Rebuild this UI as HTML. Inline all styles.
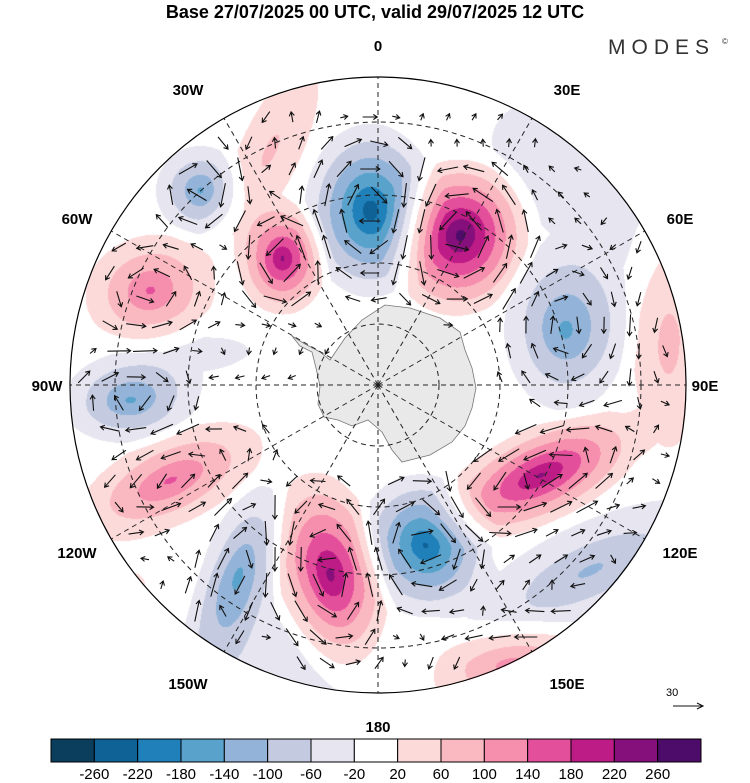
<!DOCTYPE html>
<html><head><meta charset="utf-8"><style>
body{margin:0;background:#fff;width:750px;height:783px;overflow:hidden;font-family:"Liberation Sans",sans-serif}
#wrap{position:relative;width:750px;height:783px}
canvas,svg{position:absolute;left:0;top:0}
</style></head><body>
<div id="wrap">
<canvas id="cv" width="750" height="783"></canvas>
<svg id="sv" width="750" height="783"></svg>
</div>
<script>
// anomaly centres (pixel), spreads, rotation, values
const bx=[370,460,282,200,150,565,130,540,170,238,330,425,590,510,668,270,560,250,600,190,120];
const by=[210,235,258,190,290,330,400,475,480,575,575,545,570,665,340,150,140,660,220,355,610];
const bsx=[29,31,20,21,31,29,32,50,47,18,25,29,68,40,20,18,60,80,45,60,40];
const bsy=[38,35,25,21,26,38,20,21,21,44,46,32,24,22,60,55,40,40,60,18,30];
const brot=[0,15,0,0,-15,0,-5,-25,-25,18,-12,-25,-25,-10,0,25,0,0,0,-5,-30];
const bval=[-250,280,230,-150,150,-150,-150,230,150,-150,240,-230,-110,120,80,70,-40,-50,-35,-35,40];
const levels=[-260,-220,-180,-140,-100,-60,-20,20,60,100,140,180,220,260];
const colors=["#0b3d5c","#0f6296","#1f80ba","#58a2cb","#93b4d8","#c4cbe1","#e6e5f0","#ffffff","#fcdada","#fab9c0","#f68eae","#e44f9b","#bd1b86","#86107b","#4e0c6a"];
const lonLabels=["0","30E","60E","90E","120E","150E","180","150W","120W","90W","60W","30W"];
const latRadii=[61,122,190,263];
const labelPos=[[378,51],[567,95],[680,224],[705,391],[680,558],[567,689],[378,732],[188,689],[77,558],[47,391],[77,224],[188,95]];
const CX=378,CY=385,R=308;
function field(x,y){let s=0;for(let i=0;i<bx.length;i++){const a=brot[i]*Math.PI/180,dx=x-bx[i],dy=y-by[i];const u=dx*Math.cos(a)+dy*Math.sin(a),w=-dx*Math.sin(a)+dy*Math.cos(a);const d=Math.sqrt(u*u/(bsx[i]*bsx[i])+w*w/(bsy[i]*bsy[i]));const t=1-d/2.6;if(t>0)s+=bval[i]*Math.pow(t,1.2);}return s;}
function colorIdx(v){let k=0;while(k<levels.length&&v>=levels[k])k++;return k;}
const cv=document.getElementById('cv'),ctx=cv.getContext('2d');
const img=ctx.createImageData(750,783);
function hex(c){return [parseInt(c.substr(1,2),16),parseInt(c.substr(3,2),16),parseInt(c.substr(5,2),16)];}
const rgb=colors.map(hex);
for(let y=CY-R;y<=CY+R;y++)for(let x=CX-R;x<=CX+R;x++){const d=(x-CX)**2+(y-CY)**2;if(d>R*R)continue;const c=rgb[colorIdx(field(x,y))];const p=(y*750+x)*4;img.data[p]=c[0];img.data[p+1]=c[1];img.data[p+2]=c[2];img.data[p+3]=255;}
ctx.putImageData(img,0,0);
const NS="http://www.w3.org/2000/svg",sv=document.getElementById('sv');
function el(t,a,p){const e=document.createElementNS(NS,t);for(const k in a)e.setAttribute(k,a[k]);(p||sv).appendChild(e);return e;}
// Antarctica
const ant=el('polygon',{points:"330,360 345,338 362,320 385,305 410,308 440,318 460,332 465,350 472,368 476,388 472,408 465,426 452,442 430,455 402,462 392,450 382,432 368,420 352,426 338,420 324,417 318,404 320,386 316,368 312,352 300,346 292,336 305,344 320,352",fill:"#e4e4e4","fill-opacity":"0.8",stroke:"#777","stroke-width":"0.8"});

// grid
const g=el('g',{stroke:"#222","stroke-width":"1","stroke-dasharray":"5,4",fill:"none"});

latRadii.forEach(r=>{const c=el('circle',{cx:CX,cy:CY,r:r},g);});
for(let i=0;i<12;i++){const a=i*30*Math.PI/180;const l=el('line',{x1:CX,y1:CY,x2:CX+R*Math.sin(a),y2:CY-R*Math.cos(a)},g);}
// arrows
const ag=el('g',{stroke:"#111","stroke-width":"1.1",fill:"none"});

for(let y=CY-R+14;y<CY+R;y+=26)for(let x=CX-R+14;x<CX+R;x+=26){
 const xx=x+((y/26|0)%2)*9;if((xx-CX)**2+(y-CY)**2>(R-12)**2)continue;
 const gx=(field(xx+1,y)-field(xx-1,y))/2,gy=(field(xx,y+1)-field(xx,y-1))/2;
 let vx=-gy,vy=gx;const m=Math.hypot(vx,vy);if(m<0.05)continue;
 const L=Math.min(24,Math.max(6,6+m*5));vx/=m;vy/=m;
 const x1=xx-vx*L/2,y1=y-vy*L/2,x2=xx+vx*L/2,y2=y+vy*L/2;
 const hx=-vx*4,hy=-vy*4;
 const p=el('path',{d:`M${x1.toFixed(1)},${y1.toFixed(1)}L${x2.toFixed(1)},${y2.toFixed(1)}M${(x2+hx-vy*2.5).toFixed(1)},${(y2+hy+vx*2.5).toFixed(1)}L${x2.toFixed(1)},${y2.toFixed(1)}L${(x2+hx+vy*2.5).toFixed(1)},${(y2+hy-vx*2.5).toFixed(1)}`},ag);
 
}
const bd=el('circle',{cx:CX,cy:CY,r:R,fill:"none",stroke:"#000","stroke-width":"1.2"});

// lon labels
for(let i=0;i<12;i++){const t=el('text',{x:labelPos[i][0],y:labelPos[i][1],"text-anchor":"middle","font-size":"15","font-weight":"bold",fill:"#000"});t.textContent=lonLabels[i];
 }
const ti=el('text',{x:375,y:18,"text-anchor":"middle","font-size":"18","font-weight":"bold"});ti.textContent="Base 27/07/2025 00 UTC, valid 29/07/2025 12 UTC";

const lg=el('text',{x:608,y:54,"font-size":"21","letter-spacing":"6",fill:"#333"});lg.textContent="MODES";

const cp=el('text',{x:722,y:44,"font-size":"8",fill:"#333"});cp.textContent="©";

// reference vector
const rv=el('path',{d:"M673,706L703,706M697,703L703,706L697,709",stroke:"#111","stroke-width":"1.1",fill:"none"});

const rt=el('text',{x:666,y:696,"font-size":"11"});rt.textContent="30";

// colorbar
const cbx=51,cbw=650/15,cby=739,cbh=23;
colors.forEach((c,i)=>{const r=el('rect',{x:cbx+i*cbw,y:cby,width:cbw,height:cbh,fill:c,stroke:"#000","stroke-width":"1"});});
levels.forEach((v,i)=>{const t=el('text',{x:cbx+(i+1)*cbw,y:779,"text-anchor":"middle","font-size":"15"});t.textContent=v;});
</script>
</body></html>
